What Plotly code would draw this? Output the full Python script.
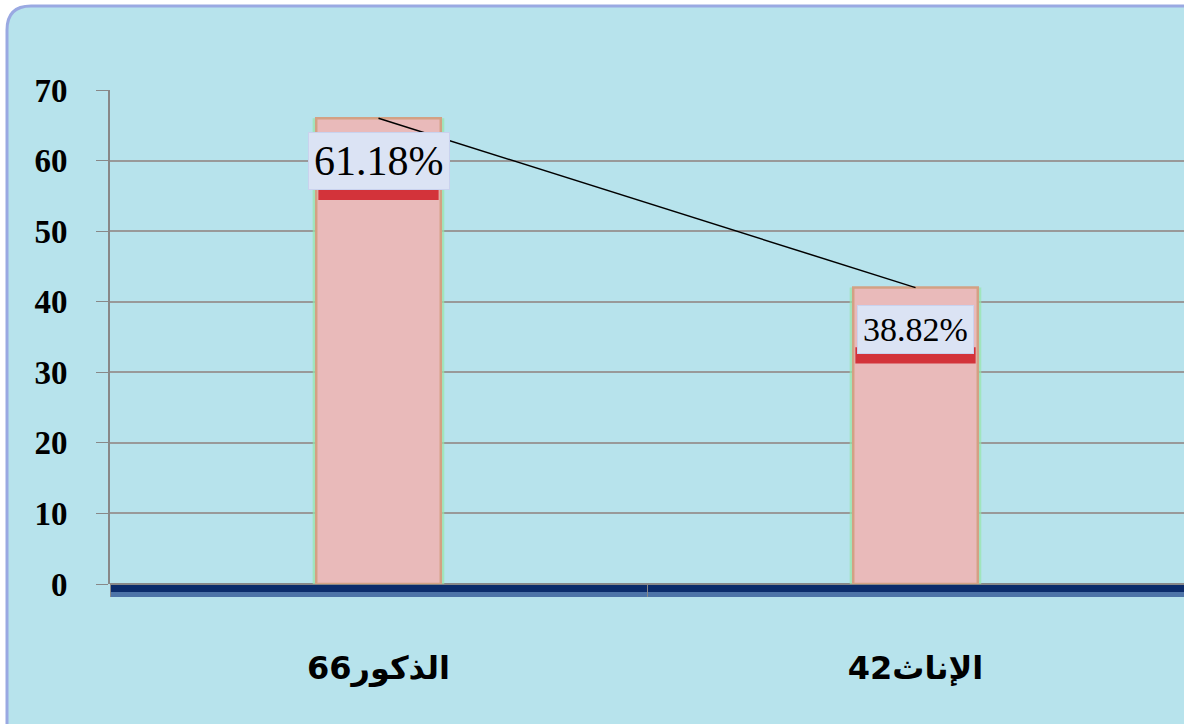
import plotly.graph_objects as go

categories = ["الذكور66", "الإناث42"]
counts = [66, 42]
pct_labels = ["61.18%", "38.82%"]
y_ticks = [0, 10, 20, 30, 40, 50, 60, 70]

W, H = 1184, 724
L, R, T, B = 110, 0, 90, 140
PW, PH = W - L - R, H - T - B
UNIT_PX = PH / 70

def px(x):
    return (x - L) / PW

def py(y):
    return (T + PH - y) / PH

fig = go.Figure()

# glow behind bars
fig.add_trace(go.Bar(x=categories, y=counts, width=0.245,
                     marker=dict(color="rgba(150,230,170,0.7)", line=dict(width=0)),
                     hoverinfo="skip", showlegend=False))
fig.add_trace(go.Bar(x=categories, y=counts, width=0.232,
                     marker=dict(color="#e9baba", line=dict(color="#d3a184", width=2.5)),
                     showlegend=False))
fig.add_trace(go.Scatter(x=categories, y=counts, mode="lines",
                         line=dict(color="black", width=1.5), showlegend=False))

# background rounded rectangle
x0, y0, x1, y1, r = px(7), py(6), px(1230), py(760), 24
rx, ry = r / PW, r / PH
path = (f"M {x0},{y1} L {x0},{y0 - ry} Q {x0},{y0} {x0 + rx},{y0} "
        f"L {x1},{y0} L {x1},{y1} Z")
shapes = [
    dict(type="path", path=path, xref="paper", yref="paper", layer="below",
         fillcolor="#b7e3ec", line=dict(color="#9aa9e2", width=3)),
    dict(type="rect", xref="paper", yref="paper", x0=px(110), x1=px(1230),
         y0=py(592), y1=py(585), fillcolor="#0b2c6b", line=dict(width=0), layer="below"),
    dict(type="rect", xref="paper", yref="paper", x0=px(110), x1=px(1230),
         y0=py(597), y1=py(592), fillcolor="#4d74a8", line=dict(width=0), layer="below"),
]

annotations = []
sizes = [42, 34]
for i, (v, lab) in enumerate(zip(counts, pct_labels)):
    half = sizes[i] * 0.72 / UNIT_PX
    # red shadow under the label box
    shapes.append(dict(type="rect", xref="x", yref="y", x0=i - 0.112, x1=i + 0.112,
                       y0=v - 6 - half - 1.3, y1=v - 6 - half + 1, fillcolor="#d3333a",
                       line=dict(width=0), layer="above"))
    annotations.append(dict(x=i, y=v - 6, text=lab, showarrow=False,
                            font=dict(family="Liberation Serif", size=sizes[i], color="black"),
                            bgcolor="#dbe3f4", bordercolor="#c9d2ee", borderwidth=1, borderpad=5))

fig.update_layout(
    width=W, height=H,
    margin=dict(l=L, r=R, t=T, b=B),
    paper_bgcolor="white", plot_bgcolor="white",
    barmode="overlay",
    shapes=shapes, annotations=annotations,
    xaxis=dict(type="category", range=[-0.5, 1.5],
               tickson="boundaries", ticks="outside", ticklen=12, tickcolor="#888",
               showgrid=False, zeroline=False, showline=False,
               ticklabelstandoff=62,
               tickfont=dict(family="DejaVu Sans", size=32, color="black", weight="bold")),
    yaxis=dict(range=[0, 70], tickvals=y_ticks, ticks="outside", ticklen=12,
               tickcolor="#888", showgrid=True, gridcolor="#999", gridwidth=1.5,
               showline=True, linecolor="#888", linewidth=2, zeroline=True,
               zerolinecolor="#888", zerolinewidth=2, ticklabelstandoff=22,
               tickfont=dict(family="Liberation Serif", size=33, color="black", weight="bold")),
)

fig.write_html("out.html")
